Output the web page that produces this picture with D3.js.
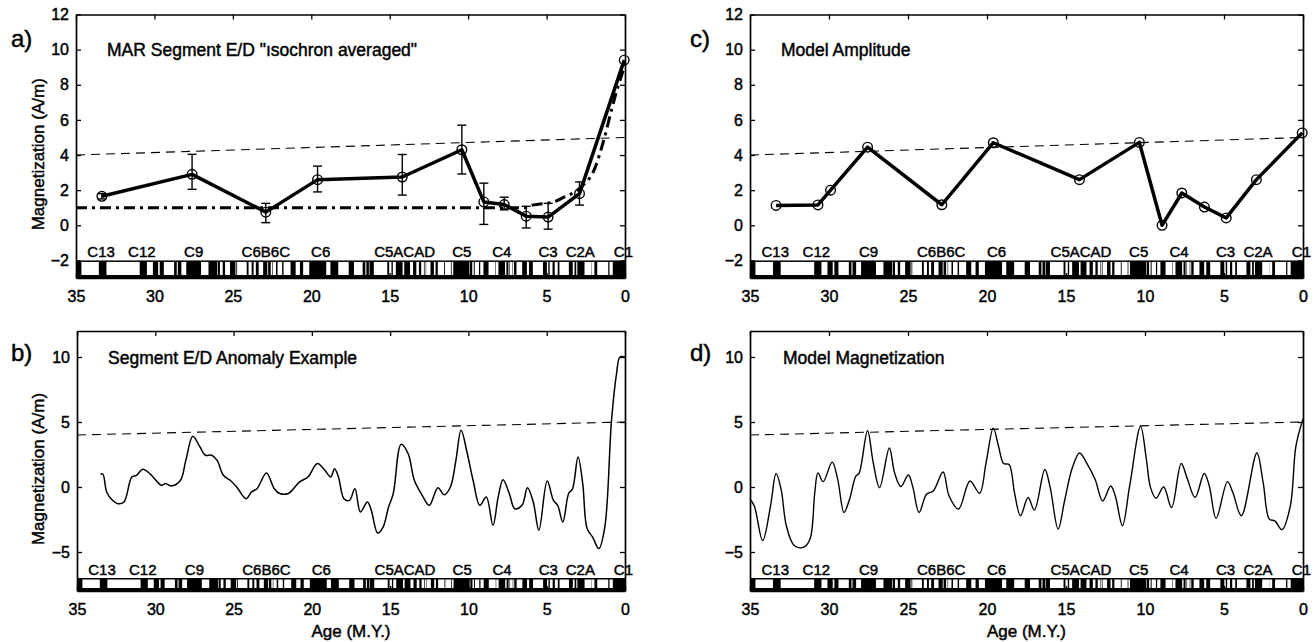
<!DOCTYPE html>
<html>
<head>
<meta charset="utf-8">
<script src="https://cdn.jsdelivr.net/npm/d3@7"></script>
<style>
  body { margin: 0; background: #fff; }
  svg text { font-family: "Liberation Sans", Arial, Helvetica, sans-serif; fill: #000; }
  .thick text { stroke: #000; stroke-width: 0.45px; }
</style>
</head>
<body>
<svg id="chart"></svg>
<script>
// ---- data ----

// a) isochron averaged magnetization: age (Ma), value, error low, error high
const isoAge  = [33.35, 27.6, 22.9, 19.6, 14.2, 10.4, 9.0, 7.7, 6.3, 4.9, 2.9, 0.05];
const isoVal  = [1.65, 2.9, 0.75, 2.6, 2.75, 4.3, 1.33, 1.18, 0.52, 0.47, 1.8, 9.4];
const isoLo   = [1.5, 2.05, 0.15, 1.9, 1.72, 2.92, 0.05, 0.88, -0.15, -0.22, 1.15, null];
const isoHi   = [1.8, 4.04, 1.25, 3.37, 4.03, 5.7, 2.4, 1.6, 1.08, 1.25, 2.47, null];

// a) thick dash-dot model curve
const modelAge = [35, 6.5, 5.9, 4.5, 3.9, 2.9, 1.9, 1.4, 0.85, 0.45, 0.1, 0];
const modelVal = [1.0, 1.0, 1.15, 1.35, 1.6, 2.1, 3.3, 4.7, 6.6, 7.9, 8.9, 9.3];

// dashed trend line (all panels)
const trendAge = [35, 0];
const trendVal = [4, 5];

// c) model amplitude
const ampAge = [33.35, 30.7, 29.9, 27.56, 22.86, 19.6, 14.15, 10.36, 8.92, 7.67, 6.24, 4.86, 2.95, 0.05];
const ampVal = [1.13, 1.16, 2.0, 4.45, 1.17, 4.7, 2.6, 4.72, 0.0, 1.84, 1.04, 0.42, 2.6, 5.26];

// b) segment E/D anomaly example
const anomAge = [33.5, 33.35, 33.1, 32.75, 32.4, 32.0, 31.5, 31.2, 30.8, 30.3, 29.6, 29.35, 29.0, 28.4, 28.05,
  27.6, 27.15, 26.8, 26.4, 26.05, 25.65, 25.2, 24.8, 24.2, 23.85, 23.5, 22.9, 22.4, 22.05, 21.5, 20.8, 20.25,
  19.65, 19.2, 18.8, 18.55, 18.3, 17.95, 17.6, 17.25, 16.9, 16.45, 16.2, 15.8, 15.45, 15.1, 14.8, 14.3, 13.85,
  13.45, 12.95, 12.5, 11.95, 11.55, 11.15, 10.8, 10.47, 10.07, 9.7, 9.27, 8.86, 8.43, 8.1, 7.79, 7.39, 7.04,
  6.58, 6.23, 5.86, 5.5, 4.97, 4.57, 4.3, 3.97, 3.6, 3.35, 3.0, 2.7, 2.42, 2.07, 1.67, 1.29, 0.86, 0.54, 0.32, 0];
const anomVal = [0.97, 1.0, -0.4, -1.0, -1.28, -1.15, 0.77, 0.9, 1.36, 0.97, 0.13, 0.26, 0.08, 0.5, 2.05,
  3.9, 3.08, 2.44, 2.44, 2.05, 0.9, 0.5, 0.0, -0.9, -0.38, -0.13, 1.08, -0.13, -0.5, -0.5, 0.38, 0.77,
  1.8, 1.33, 0.77, 1.41, 0.77, -0.9, -1.03, -0.13, -1.92, -1.15, -1.8, -3.54, -3.08, -1.54, -0.5, 3.28, 2.56,
  0.5, -0.64, -1.41, -0.05, -0.6, 0.0, 2.05, 4.36, 2.56, 0.5, -1.41, -0.77, -2.95, -0.77, 0.56, -0.5, -1.67,
  -1.41, -0.05, -1.15, -3.33, 0.46, -1.03, -1.41, -2.69, -0.5, -0.13, 2.3, 0.26, -3.2, -3.85, -4.74, -3.08, 5.13, 8.72, 10.0, 10.0];

// d) model magnetization
const magAge = [35, 34.73, 34.2, 33.7, 33.35, 33.03, 32.7, 32.2, 31.6, 31.2, 30.9, 30.7, 30.37, 29.8, 29.45,
  29.05, 28.7, 28.3, 28.1, 27.56, 27.2, 26.8, 26.18, 25.85, 25.45, 24.98, 24.7, 24.3, 23.83, 23.4, 22.78,
  22.4, 21.8, 21.08, 20.47, 20.06, 19.6, 19.27, 18.95, 18.6, 18.26, 17.88, 17.4, 17.0, 16.34, 16.0, 15.5,
  15.07, 14.6, 14.14, 13.7, 13.16, 12.68, 12.17, 11.88, 11.43, 10.97, 10.28, 9.91, 9.65, 9.3, 8.82, 8.32,
  7.71, 7.31, 6.83, 6.25, 5.93, 5.5, 4.78, 4.44, 3.9, 2.92, 2.52, 2.13, 1.78, 1.33, 0.8, 0.45, 0];
const magVal = [-0.94, -1.45, -4.12, -1.45, 1.04, -0.18, -2.98, -4.5, -4.63, -4.0, -0.43, 1.09, 0.41, 1.91, 0.59,
  -1.96, -0.94, 0.84, 1.04, 4.33, 1.86, -0.05, 3.0, 1.09, 0.03, 0.92, 0.03, -1.96, -0.56, -0.3, 1.15,
  -0.69, -1.7, 0.46, -0.48, 1.86, 4.53, 3.13, 1.81, 1.73, -0.43, -2.21, -0.81, -1.78, 1.35, -0.05, -3.23,
  -0.94, 1.48, 2.62, 1.86, 0.59, -1.07, 0.08, -0.69, -2.98, 0.08, 4.66, 2.11, -0.05, -0.86, 0.0, -1.58,
  1.81, 0.59, -0.81, 1.04, 0.08, -2.42, 0.41, -0.43, -2.21, 2.62, 0.33, -2.47, -2.6, -3.28, -1.45, 3.13, 5.24];

// normal polarity intervals (Ma), Cande & Kent timescale
const normalChrons = [[0, 0.78], [0.99, 1.07], [1.77, 1.95], [2.14, 2.15], [2.581, 3.04], [3.11, 3.22],
  [3.33, 3.58], [4.18, 4.29], [4.48, 4.62], [4.8, 4.89], [4.98, 5.23], [5.875, 6.122], [6.256, 6.555],
  [6.919, 7.072], [7.135, 7.17], [7.341, 7.375], [7.432, 7.562], [7.65, 8.072], [8.225, 8.257],
  [8.699, 9.025], [9.23, 9.308], [9.58, 9.642], [9.74, 9.88], [9.92, 10.949], [11.052, 11.099],
  [11.476, 11.531], [11.935, 12.078], [12.184, 12.401], [12.678, 12.708], [12.775, 12.819],
  [12.991, 13.139], [13.302, 13.51], [13.703, 14.076], [14.178, 14.612], [14.8, 14.888], [15.034, 15.155],
  [16.014, 16.293], [16.327, 16.488], [16.556, 16.726], [17.277, 17.615], [18.281, 18.781],
  [19.048, 20.131], [20.518, 20.725], [20.996, 21.32], [21.768, 21.859], [22.151, 22.248],
  [22.459, 22.493], [22.588, 22.75], [22.804, 23.069], [23.353, 23.535], [23.677, 23.8], [23.999, 24.118],
  [24.73, 24.781], [24.835, 25.183], [25.496, 25.648], [25.823, 25.951], [25.992, 26.554], [27.027, 27.972],
  [28.283, 28.512], [28.578, 28.745], [29.401, 29.662], [29.765, 30.098], [30.479, 30.939],
  [33.058, 33.545], [34.655, 34.94]];

// anomaly labels above the polarity bar
const chronNames = ["C13", "C12", "C9", "C6B6C", "C6", "C5ACAD", "C5", "C4", "C3", "C2A", "C1"];
const chronAges  = [33.4, 30.8, 27.5, 22.9, 19.4, 14.05, 10.4, 7.85, 4.9, 2.85, 0.1];

const xTicks = [35, 30, 25, 20, 15, 10, 5, 0];
const yTicksTop = [-2, 0, 2, 4, 6, 8, 10, 12];
const yTicksBottom = [-5, 0, 5, 10];

// ---- layout ----
const W = 1315, H = 642;
const svg = d3.select("#chart").attr("width", W).attr("height", H);

const panels = [
  { key: "a)", title: "MAR Segment E/D \"ısochron averaged\"", x0: 76, x1: 625, y0: 14.5, y1: 278,
    dom: [-3, 12], ticks: yTicksTop, bar: -2, ylab: true, xlab: false, lx: 11, ly: 47, tx: 107, ty: 56 },
  { key: "b)", title: "Segment E/D Anomaly Example", x0: 77, x1: 625, y0: 331, y1: 591,
    dom: [-8, 12], ticks: yTicksBottom, bar: -7, ylab: true, xlab: true, lx: 11, ly: 361, tx: 108, ty: 364 },
  { key: "c)", title: "Model Amplitude", x0: 750, x1: 1303, y0: 14.5, y1: 278,
    dom: [-3, 12], ticks: yTicksTop, bar: -2, ylab: false, xlab: false, lx: 690, ly: 47, tx: 781, ty: 56 },
  { key: "d)", title: "Model Magnetization", x0: 750, x1: 1303, y0: 331, y1: 591,
    dom: [-8, 12], ticks: yTicksBottom, bar: -7, ylab: false, xlab: true, lx: 690, ly: 361, tx: 783, ty: 364 }
];

const fmt = d => d < 0 ? "\u2212" + Math.abs(d) : String(d);

panels.forEach(p => {
  p.x = d3.scaleLinear().domain([35, 0]).range([p.x0, p.x1]);
  p.y = d3.scaleLinear().domain(p.dom).range([p.y1, p.y0]);
  const g = svg.append("g");
  p.g = g;

  // polarity bar: black = normal, white = reversed
  const barTop = p.y(p.bar), barBot = p.y(p.dom[0]);
  g.append("rect").attr("x", p.x0).attr("y", barTop).attr("width", p.x1 - p.x0)
    .attr("height", barBot - barTop).attr("fill", "#000");
  const gaps = [];
  const sorted = normalChrons.slice().sort((a, b) => a[0] - b[0]);
  for (let i = 0; i < sorted.length; i++) {
    const s = sorted[i][1];
    const e = i + 1 < sorted.length ? sorted[i + 1][0] : 35;
    if (s < 35) gaps.push([s, Math.min(e, 35)]);
  }
  g.selectAll(".rev").data(gaps).join("rect")
    .attr("x", d => p.x(d[1]))
    .attr("width", d => Math.max(0.6, p.x(d[0]) - p.x(d[1])))
    .attr("y", barTop + 1.5).attr("height", barBot - barTop - 4.5)
    .attr("fill", "#fff");

  // axes with inward ticks
  const ax = (gen, tr) => {
    const a = g.append("g").attr("class", "thick").attr("transform", tr).call(gen);
    a.select(".domain").attr("stroke-width", 1.7);
    a.selectAll(".tick line").attr("stroke-width", 1.3);
    a.selectAll("text").attr("font-size", 16);
    return a;
  };
  ax(d3.axisBottom(p.x).tickValues(xTicks).tickSize(-5).tickPadding(13).tickFormat(d3.format("d")).tickSizeOuter(0),
     `translate(0,${p.y1})`);
  ax(d3.axisTop(p.x).tickValues(xTicks).tickSize(-5).tickFormat("").tickSizeOuter(0), `translate(0,${p.y0})`);
  ax(d3.axisLeft(p.y).tickValues(p.ticks).tickSize(-5).tickPadding(7).tickFormat(fmt).tickSizeOuter(0),
     `translate(${p.x0},0)`);
  ax(d3.axisRight(p.y).tickValues(p.ticks).tickSize(-5).tickFormat("").tickSizeOuter(0), `translate(${p.x1},0)`);

  // chron labels
  g.append("g").attr("class", "thick").selectAll("text").data(chronNames).join("text")
    .attr("x", (d, i) => p.x(chronAges[i]))
    .attr("y", barTop - 3.5)
    .attr("text-anchor", "middle").attr("font-size", 15)
    .text(d => d);

  // dashed trend
  g.append("path")
    .datum(trendAge.map((a, i) => [a, trendVal[i]]))
    .attr("fill", "none").attr("stroke", "#000").attr("stroke-width", 1.1)
    .attr("stroke-dasharray", "9,6")
    .attr("d", d3.line().x(d => p.x(d[0])).y(d => p.y(d[1])));

  // titles
  const t = g.append("g").attr("class", "thick");
  t.append("text").attr("x", p.lx).attr("y", p.ly).attr("font-size", 24).text(p.key);
  t.append("text").attr("x", p.tx).attr("y", p.ty).attr("font-size", 17.5).text(p.title);
  if (p.ylab) {
    t.append("text").attr("transform", `translate(44,${(p.y0 + p.y1) / 2 + 8}) rotate(-90)`)
      .attr("text-anchor", "middle").attr("font-size", 17).text("Magnetization (A/m)");
  }
  if (p.xlab) {
    t.append("text").attr("x", (p.x0 + p.x1) / 2).attr("y", 637)
      .attr("text-anchor", "middle").attr("font-size", 17).text("Age (M.Y.)");
  }
});

const [pa, pb, pc, pd] = panels;

// a) model dash-dot
pa.g.append("path")
  .datum(modelAge.map((a, i) => [a, modelVal[i]]))
  .attr("fill", "none").attr("stroke", "#000").attr("stroke-width", 3)
  .attr("stroke-dasharray", "11,5,3,5")
  .attr("d", d3.line().curve(d3.curveMonotoneX).x(d => pa.x(d[0])).y(d => pa.y(d[1])));

// a) isochron points
const isoPts = isoAge.map((a, i) => ({ a, v: isoVal[i], lo: isoLo[i], hi: isoHi[i] }));
pa.g.append("path").datum(isoPts)
  .attr("fill", "none").attr("stroke", "#000").attr("stroke-width", 3.5).attr("stroke-linejoin", "round")
  .attr("d", d3.line().x(d => pa.x(d.a)).y(d => pa.y(d.v)));
const eb = pa.g.append("g").attr("stroke", "#000").attr("stroke-width", 1.4);
isoPts.filter(d => d.lo !== null).forEach(d => {
  const x = pa.x(d.a);
  eb.append("line").attr("x1", x).attr("x2", x).attr("y1", pa.y(d.lo)).attr("y2", pa.y(d.hi));
  eb.append("line").attr("x1", x - 4.5).attr("x2", x + 4.5).attr("y1", pa.y(d.lo)).attr("y2", pa.y(d.lo));
  eb.append("line").attr("x1", x - 4.5).attr("x2", x + 4.5).attr("y1", pa.y(d.hi)).attr("y2", pa.y(d.hi));
});
pa.g.selectAll(".pt").data(isoPts).join("circle")
  .attr("cx", d => pa.x(d.a)).attr("cy", d => pa.y(d.v)).attr("r", 4.8)
  .attr("fill", "none").attr("stroke", "#000").attr("stroke-width", 1.4);

// c) model amplitude
const ampPts = ampAge.map((a, i) => [a, ampVal[i]]);
pc.g.append("path").datum(ampPts)
  .attr("fill", "none").attr("stroke", "#000").attr("stroke-width", 3.5).attr("stroke-linejoin", "round")
  .attr("d", d3.line().x(d => pc.x(d[0])).y(d => pc.y(d[1])));
pc.g.selectAll(".pt").data(ampPts).join("circle")
  .attr("cx", d => pc.x(d[0])).attr("cy", d => pc.y(d[1])).attr("r", 4.8)
  .attr("fill", "none").attr("stroke", "#000").attr("stroke-width", 1.4);

// b) anomaly curve
pb.g.append("path")
  .datum(anomAge.map((a, i) => [a, anomVal[i]]))
  .attr("fill", "none").attr("stroke", "#000").attr("stroke-width", 1.5)
  .attr("d", d3.line().curve(d3.curveCatmullRom.alpha(0.5)).x(d => pb.x(d[0])).y(d => pb.y(d[1])));

// d) model magnetization curve
pd.g.append("path")
  .datum(magAge.map((a, i) => [a, magVal[i]]))
  .attr("fill", "none").attr("stroke", "#000").attr("stroke-width", 1.4)
  .attr("d", d3.line().curve(d3.curveCatmullRom.alpha(0.5)).x(d => pd.x(d[0])).y(d => pd.y(d[1])));
</script>
</body>
</html>
